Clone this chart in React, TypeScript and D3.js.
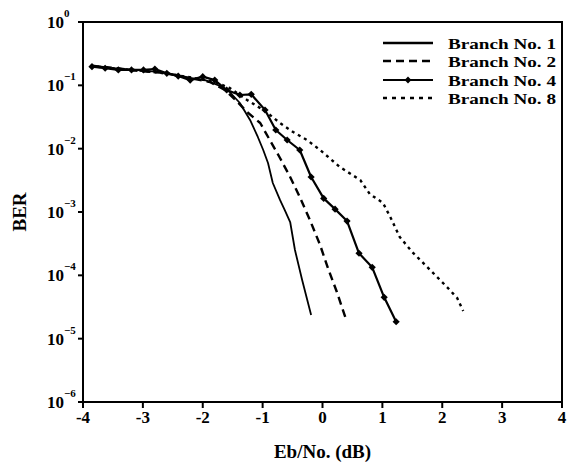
import * as d3 from 'd3';

// Eb/No (dB) and BER
const snrBranch1 = [-3.87, -3.55, -3.13, -2.71, -2.3, -1.96, -1.71, -1.55, -1.38, -1.21, -1.08, -0.99, -0.91, -0.83, -0.71, -0.63, -0.54, -0.46, -0.34, -0.19];
const berBranch1 = [0.209, 0.188, 0.175, 0.162, 0.135, 0.121, 0.0976, 0.0785, 0.0526, 0.0284, 0.0153, 0.00953, 0.00594, 0.00287, 0.00155, 0.00107, 6.95e-4, 2.51e-4, 8.43e-5, 2.36e-5];

const snrBranch2 = [-3.87, -3.47, -3.05, -2.63, -2.21, -1.88, -1.63, -1.45, -1.26, -1.04, -0.88, -0.71, -0.54, -0.38, -0.21, -0.04, 0.09, 0.24, 0.38];
const berBranch2 = [0.202, 0.188, 0.168, 0.157, 0.13, 0.113, 0.0844, 0.0587, 0.0379, 0.0254, 0.0137, 0.00713, 0.00357, 0.00173, 7.48e-4, 3.01e-4, 1.31e-4, 5.46e-5, 2.2e-5];

const snrBranch4 = [-3.85, -3.63, -3.41, -3.19, -2.99, -2.8, -2.6, -2.41, -2.21, -2.0, -1.8, -1.6, -1.38, -1.19, -0.96, -0.78, -0.59, -0.38, -0.19, 0.02, 0.21, 0.41, 0.61, 0.83, 1.03, 1.23];
const berBranch4 = [0.197, 0.186, 0.175, 0.175, 0.175, 0.181, 0.155, 0.14, 0.121, 0.137, 0.121, 0.0844, 0.0704, 0.0722, 0.0408, 0.0197, 0.0137, 0.00953, 0.00357, 0.00164, 0.00111, 7.2e-4, 2.23e-4, 1.34e-4, 4.5e-5, 1.85e-5];

const snrBranch8 = [-3.87, -3.38, -2.97, -2.55, -2.13, -1.8, -1.55, -1.26, -0.96, -0.71, -0.49, -0.26, -0.04, 0.29, 0.63, 0.79, 1.01, 1.14, 1.29, 1.5, 1.75, 2.08, 2.25, 2.35];
const berBranch8 = [0.202, 0.181, 0.168, 0.151, 0.13, 0.113, 0.0908, 0.0587, 0.0393, 0.0254, 0.0183, 0.0137, 0.00953, 0.00513, 0.0032, 0.00192, 0.00139, 8.04e-4, 4.03e-4, 2.33e-4, 1.35e-4, 6.53e-5, 4.38e-5, 2.73e-5];

const xTicks = [-4, -3, -2, -1, 0, 1, 2, 3, 4];
const yExponents = [0, -1, -2, -3, -4, -5, -6];
const legendLabels = ['Branch No. 1', 'Branch No. 2', 'Branch No. 4', 'Branch No. 8'];

const W = 568;
const H = 466;
const plot = { left: 83, right: 562, top: 22, bottom: 402 };
const font = '"Liberation Serif", "Times New Roman", serif';

export default function App() {
  const x = d3.scaleLinear().domain([-4, 4]).range([plot.left, plot.right]);
  const y = d3.scaleLog().domain([1e-6, 1]).range([plot.bottom, plot.top]);

  const line = d3
    .line<[number, number]>()
    .x((d) => x(d[0]))
    .y((d) => y(d[1]));

  const zip = (a: number[], b: number[]) => a.map((v, i) => [v, b[i]] as [number, number]);

  const series = [
    { pts: zip(snrBranch1, berBranch1), width: 1.8, dash: 'none' },
    { pts: zip(snrBranch2, berBranch2), width: 2.4, dash: '8,5' },
    { pts: zip(snrBranch4, berBranch4), width: 2.2, dash: 'none' },
    { pts: zip(snrBranch8, berBranch8), width: 2.4, dash: '3,4' }
  ];
  const legendStyles = [
    { width: 2.4, dash: 'none' },
    { width: 2.4, dash: '8,5' },
    { width: 2.2, dash: 'none' },
    { width: 2.4, dash: '4,5' }
  ];
  const legendRows = [43, 61, 80, 98];

  const diamond = (cx: number, cy: number, r = 3.6) =>
    `M${cx},${cy - r}L${cx + r},${cy}L${cx},${cy + r}L${cx - r},${cy}Z`;

  return (
    <>
      <style>{`body{margin:0}`}</style>
      <svg width={W} height={H} style={{ display: 'block', background: '#fff' }} fontFamily={font} fontWeight="bold">
        {/* frame */}
        <rect
          x={plot.left}
          y={plot.top}
          width={plot.right - plot.left}
          height={plot.bottom - plot.top}
          fill="none"
          stroke="#000"
          strokeWidth={2}
        />

        {/* x ticks */}
        {xTicks.map((t) => (
          <g key={`x${t}`}>
            <line x1={x(t)} x2={x(t)} y1={plot.bottom} y2={plot.bottom + 6} stroke="#000" strokeWidth={2} />
            <text x={x(t)} y={plot.bottom + 21} textAnchor="middle" fontSize={17}>
              {t}
            </text>
          </g>
        ))}

        {/* y ticks */}
        {yExponents.map((e) => {
          const yy = y(Math.pow(10, e));
          return (
            <g key={`y${e}`}>
              <line x1={plot.left - 5} x2={plot.left} y1={yy} y2={yy} stroke="#000" strokeWidth={2} />
              <text x={47} y={yy + 6} fontSize={17}>
                10
                <tspan fontSize={11} dy={-11}>
                  {e === 0 ? '0' : `\u2212${-e}`}
                </tspan>
              </text>
            </g>
          );
        })}

        {/* axis titles */}
        <text x={(plot.left + plot.right) / 2} y={458} textAnchor="middle" fontSize={19}>
          Eb/No. (dB)
        </text>
        <text
          transform={`translate(26,${(plot.top + plot.bottom) / 2}) rotate(-90)`}
          textAnchor="middle"
          fontSize={19}
        >
          BER
        </text>

        {/* curves */}
        {series.map((s, i) => (
          <path
            key={`s${i}`}
            d={line(s.pts) || ''}
            fill="none"
            stroke="#000"
            strokeWidth={s.width}
            strokeDasharray={s.dash}
            strokeLinejoin="round"
          />
        ))}
        {series[2].pts.map((p, i) => (
          <path key={`m${i}`} d={diamond(x(p[0]), y(p[1]))} fill="#000" />
        ))}

        {/* legend */}
        {legendLabels.map((label, i) => (
          <g key={label}>
            <line
              x1={383}
              x2={433}
              y1={legendRows[i]}
              y2={legendRows[i]}
              stroke="#000"
              strokeWidth={legendStyles[i].width}
              strokeDasharray={legendStyles[i].dash}
            />
            {i === 2 && <path d={diamond(408, legendRows[i], 3.4)} fill="#000" />}
            <text x={448} y={legendRows[i] + 5.5} fontSize={15.5} textLength={108} lengthAdjust="spacingAndGlyphs">
              {label}
            </text>
          </g>
        ))}
      </svg>
    </>
  );
}
